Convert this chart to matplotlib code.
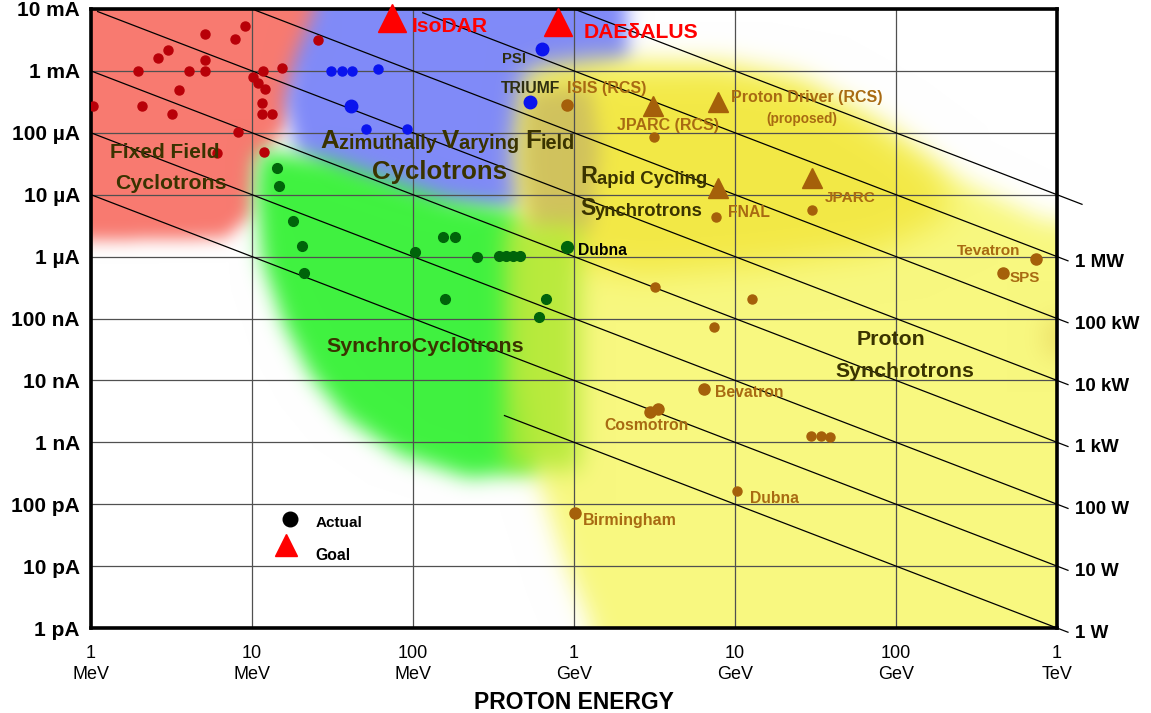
import numpy as np
import matplotlib
matplotlib.use('Agg')
import matplotlib.pyplot as plt
from matplotlib.path import Path
from matplotlib import font_manager

# energy in MeV, beam current in A
ffc_energy = [9.0, 5.1, 7.8, 3.0, 2.6, 5.1, 1.96, 4.06, 5.1, 11.7, 15.4, 25.7, 10.1,
              10.9, 12.0, 3.5, 11.5, 1.03, 2.07, 3.2, 11.5, 13.3, 8.2, 6.1, 11.9]
ffc_current = [5.3e-3, 3.9e-3, 3.3e-3, 2.2e-3, 1.6e-3, 1.5e-3, 1.0e-3, 1.0e-3, 1.0e-3,
               1.0e-3, 1.1e-3, 3.2e-3, 8.0e-4, 6.4e-4, 5.1e-4, 4.9e-4, 3.0e-4, 2.7e-4,
               2.7e-4, 2.0e-4, 2.0e-4, 2.0e-4, 1.03e-4, 4.7e-5, 4.9e-5]

avf_energy = [31, 36, 42, 61, 51, 92]
avf_current = [1.0e-3, 1.0e-3, 1.0e-3, 1.07e-3, 1.15e-4, 1.15e-4]
avf_big_energy = [41, 632, 533]          # unnamed, PSI, TRIUMF
avf_big_current = [2.7e-4, 2.3e-3, 3.1e-4]

sc_energy = [14.3, 14.7, 18.0, 20.5, 21.0, 103, 153, 182, 250, 342, 378, 418, 462, 158, 670, 606]
sc_current = [2.7e-5, 1.38e-5, 3.8e-6, 1.48e-6, 5.4e-7, 1.19e-6, 2.07e-6, 2.07e-6, 9.9e-7,
              1.02e-6, 1.02e-6, 1.02e-6, 1.02e-6, 2.07e-7, 2.07e-7, 1.06e-7]
sc_dubna_energy = [905]
sc_dubna_current = [1.43e-6]

sync_energy = [3140, 7620, 30100, 3190, 12800, 7410, 29600, 34200, 38900, 10300]
sync_current = [8.5e-5, 4.4e-6, 5.7e-6, 3.2e-7, 2.07e-7, 7.3e-8, 1.26e-9, 1.26e-9, 1.22e-9, 1.63e-10]
# ISIS, Tevatron, SPS, Bevatron, Cosmotron x2, Birmingham
sync_big_energy = [905, 741000, 462000, 6420, 2960, 3320, 1010]
sync_big_current = [2.8e-4, 9.1e-7, 5.4e-7, 7.3e-9, 3.1e-9, 3.45e-9, 7.2e-11]

# JPARC (RCS), Proton Driver, FNAL, JPARC
planned_energy = [3100, 7840, 7840, 30100]
planned_current = [2.7e-4, 3.1e-4, 1.28e-5, 1.86e-5]
goal_energy = [74, 796]                   # IsoDAR, DAEdALUS
goal_current = [7.2e-3, 6.2e-3]

power_w = [1, 10, 100, 1e3, 1e4, 1e5, 1e6, 1e7]
power_e_start = [370, 1, 1, 1, 1.1, 10.5, 115, 1000]
power_e_end = [1.17e6] * 7 + [1.43e6]
power_labels = ['1 W', '10 W', '100 W', '1 kW', '10 kW', '100 kW', '1 MW', None]

xtick_vals = [1, 10, 100, 1e3, 1e4, 1e5, 1e6]
xtick_labels = ['1\nMeV', '10\nMeV', '100\nMeV', '1\nGeV', '10\nGeV', '100\nGeV', '1\nTeV']
ytick_vals = [1e-12, 1e-11, 1e-10, 1e-9, 1e-8, 1e-7, 1e-6, 1e-5, 1e-4, 1e-3, 1e-2]
ytick_labels = ['1 pA', '10 pA', '100 pA', '1 nA', '10 nA', '100 nA', '1 µA', '10 µA',
                '100 µA', '1 mA', '10 mA']

# region outlines in (log10 MeV, log10 A)
red_blob = [(-0.1, -1.8), (1.55, -1.8), (1.48, -2.66), (1.30, -3.15), (1.20, -3.95), (1.02, -4.44),
            (0.99, -5.33), (0.83, -5.70), (0.06, -5.73), (-0.1, -5.73)]
blue_blob = [(1.42, -1.8), (3.32, -1.8), (3.34, -2.82), (3.04, -3.31), (2.91, -3.95), (2.91, -4.92),
             (2.67, -5.25), (2.04, -5.22), (1.55, -4.84), (1.27, -4.28), (1.20, -3.47), (1.27, -2.74)]
green_blob = [(1.05, -4.28), (1.48, -4.44), (2.23, -5.09), (2.85, -5.33), (2.95, -6.06), (2.92, -8.32),
              (2.80, -9.45), (2.35, -9.58), (1.92, -9.21), (1.58, -8.61), (1.36, -7.91), (1.19, -7.06),
              (1.06, -6.06), (1.02, -4.92)]
yellow_blob = [(2.70, -2.99), (3.16, -2.82), (3.91, -2.91), (4.40, -3.15), (4.90, -3.87), (5.34, -4.68),
               (5.89, -5.38), (6.1, -5.49), (6.1, -12.3), (3.16, -12.3), (2.94, -10.90), (2.76, -9.45),
               (2.67, -7.99), (2.67, -5.89), (2.63, -4.28)]
bright_blob = [(2.79, -3.07), (3.91, -2.99), (4.40, -3.23), (4.90, -3.96), (5.27, -4.68), (5.34, -5.33),
               (4.90, -5.89), (4.16, -6.14), (3.41, -6.30), (2.91, -6.06), (2.79, -5.09)]
khaki_blob = [(2.70, -3.31), (3.10, -3.23), (3.16, -4.28), (3.10, -5.57), (2.73, -5.65), (2.67, -4.44)]
lime_blob = [(2.57, -5.49), (3.04, -5.49), (3.04, -9.45), (2.57, -9.45)]
tan_blob = [(5.92, -7.0), (6.1, -7.0), (6.1, -7.6), (5.92, -7.6)]

names = {f.name for f in font_manager.fontManager.ttflist}
if 'Liberation Sans Narrow' in names:
    lab_font, k = 'Liberation Sans Narrow', 1.2
else:
    lab_font, k = 'Liberation Sans', 1.0
plt.rcParams['font.family'] = ['Liberation Sans', 'DejaVu Sans']

# ---- soft coloured regions ----
nx, ny = 966, 619
gx = np.linspace(0, 6, nx)
gy = np.linspace(-2, -12, ny)
GX, GY = np.meshgrid(gx, gy)
pts = np.column_stack([GX.ravel(), GY.ravel()])


def blur(a, s):
    r = int(3 * s)
    kern = np.exp(-0.5 * (np.arange(-r, r + 1) / s) ** 2)
    kern /= kern.sum()
    a = np.pad(a, r, mode='edge')
    a = np.apply_along_axis(lambda v: np.convolve(v, kern, mode='same'), 0, a)
    a = np.apply_along_axis(lambda v: np.convolve(v, kern, mode='same'), 1, a)
    return a[r:-r, r:-r]


def mask(poly, s):
    m = Path(poly).contains_points(pts).reshape(ny, nx).astype(float)
    return blur(m, s)


rgb = np.ones((ny, nx, 3))
layers = [(red_blob, '#F87A70', 8, 1.0), (blue_blob, '#808AF8', 9, 1.0),
          (green_blob, '#40F240', 10, 1.0), (yellow_blob, '#F8F880', 12, 1.0),
          (bright_blob, '#F2E63C', 16, 0.85), (khaki_blob, '#CDBE5F', 10, 0.9),
          (lime_blob, '#AFE832', 12, 0.85), (tan_blob, '#E8D860', 12, 0.7)]
for poly, col, s, amax in layers:
    a = (mask(poly, s) * amax)[..., None]
    c = np.array(matplotlib.colors.to_rgb(col))
    rgb = rgb * (1 - a) + c * a

fig = plt.figure(figsize=(11.51, 7.13), dpi=100)
pos = [91 / 1151, 1 - 628 / 713, 966 / 1151, 619 / 713]
bg = fig.add_axes(pos)
bg.imshow(rgb, extent=[0, 6, -12, -2], aspect='auto', interpolation='bilinear')
bg.axis('off')

ax = fig.add_axes(pos)
ax.set_facecolor('none')
ax.set_xscale('log')
ax.set_yscale('log')
ax.set_xlim(1, 1e6)
ax.set_ylim(1e-12, 1e-2)
ax.set_xticks(xtick_vals)
ax.set_xticklabels(xtick_labels, fontsize=13, linespacing=1.3)
ax.set_yticks(ytick_vals)
ax.set_yticklabels(ytick_labels, fontsize=15, fontweight='bold')
ax.minorticks_off()
ax.tick_params(length=0)
ax.tick_params(axis='x', pad=12)
ax.tick_params(axis='y', pad=8)
ax.grid(True, color='#505050', lw=0.9)
for sp in ax.spines.values():
    sp.set_linewidth(2.6)
ax.set_xlabel('PROTON ENERGY', fontsize=16.5, fontweight='bold', labelpad=6)

for p, e0, e1, lab in zip(power_w, power_e_start, power_e_end, power_labels):
    e = np.array([e0, e1])
    ax.plot(e, p / (e * 1e6), color='black', lw=0.9, clip_on=False, zorder=3)
    if lab:
        ax.annotate(lab, (e1, p / (e1 * 1e6)), xytext=(5, -1), textcoords='offset points',
                    va='center', ha='left', fontsize=13.5, fontweight='bold', annotation_clip=False)

ax.plot(ffc_energy, ffc_current, 'o', color='#B80008', ms=6.5, zorder=5)
ax.plot(avf_energy, avf_current, 'o', color='#0A14EE', ms=6.5, zorder=5)
ax.plot(avf_big_energy, avf_big_current, 'o', color='#0A14EE', ms=9, zorder=5)
ax.plot(sc_energy, sc_current, 'o', color='#00640A', ms=7, zorder=5)
ax.plot(sc_dubna_energy, sc_dubna_current, 'o', color='#00640A', ms=8.5, zorder=5)
ax.plot(sync_energy, sync_current, 'o', color='#A5600A', ms=6.5, zorder=5)
ax.plot(sync_big_energy, sync_big_current, 'o', color='#A5600A', ms=8, zorder=5)
ax.plot(planned_energy, planned_current, '^', color='#A5600A', ms=14, zorder=5)
ax.plot(goal_energy, goal_current, '^', color='#FF0000', ms=20, zorder=6, clip_on=False)


def at(x, y):
    return (x - 91) / 966, (628 - y) / 619


brown = '#A86A12'
dark = '#3A3300'
labels = [
    (412, 32, 'IsoDAR', 15.2, '#FF0000'), (584, 38, 'DAEδALUS', 15.2, '#FF0000'),
    (502, 63, 'PSI', 10.7, '#2E2E10'), (501, 93, 'TRIUMF', 11.3, '#2E2E10'),
    (567, 93, 'ISIS (RCS)', 11.5, brown), (617, 130, 'JPARC (RCS)', 11.5, brown),
    (731, 102, 'Proton Driver (RCS)', 11.5, brown), (766, 123, '(proposed)', 9.8, brown),
    (728, 217, 'FNAL', 11.3, brown), (825, 202, 'JPARC', 11.1, brown),
    (957, 255, 'Tevatron', 11.1, brown), (1010, 282, 'SPS', 11.0, brown),
    (578, 255, 'Dubna', 11.3, 'black'), (715, 397, 'Bevatron', 11.3, brown),
    (604, 430, 'Cosmotron', 11.3, brown), (750, 503, 'Dubna', 11.3, brown),
    (583, 525, 'Birmingham', 11.5, brown),
    (110, 158, 'Fixed Field', 15.0, dark), (115, 189, 'Cyclotrons', 15.3, dark),
    (326, 352, 'SynchroCyclotrons', 15.4, dark),
    (857, 345, 'Proton', 15.3, dark), (835, 377, 'Synchrotrons', 15.3, dark),
    (372, 179, 'Cyclotrons', 18.6, dark),
]
for x, y, s, size, col in labels:
    ax.text(*at(x, y), s, transform=ax.transAxes, fontsize=size * k, fontweight='bold',
            color=col, va='baseline', ha='left', family=lab_font, zorder=7)


def mixed(x, y, parts, col):
    t = ax.text(*at(x, y), parts[0][0], transform=ax.transAxes, fontsize=parts[0][1] * k,
                fontweight='bold', color=col, va='baseline', ha='left', family=lab_font, zorder=7)
    for s, size in parts[1:]:
        t = ax.annotate(s, xy=(1, 0), xycoords=t, fontsize=size * k, fontweight='bold',
                        color=col, va='bottom', ha='left', family=lab_font, zorder=7)


mixed(320, 148, [('A', 18.6), ('zimuthally ', 14.4), ('V', 18.6), ('arying ', 14.4),
                 ('F', 18.6), ('ield', 14.4)], dark)
mixed(580, 183, [('R', 16.8), ('apid Cycling', 13.4)], dark)
mixed(580, 215, [('S', 16.6), ('ynchrotrons', 13.3)], dark)

# legend
ax.plot(*at(290, 519), 'o', color='black', ms=10.5, transform=ax.transAxes, zorder=6)
ax.plot(*at(286, 545), '^', color='#FF0000', ms=16, transform=ax.transAxes, zorder=6)
ax.text(*at(316, 527), 'Actual', transform=ax.transAxes, fontsize=11 * k, fontweight='bold',
        va='baseline', family=lab_font)
ax.text(*at(315, 560), 'Goal', transform=ax.transAxes, fontsize=11.3 * k, fontweight='bold',
        va='baseline', family=lab_font)

fig.savefig('out.png', dpi=100)
